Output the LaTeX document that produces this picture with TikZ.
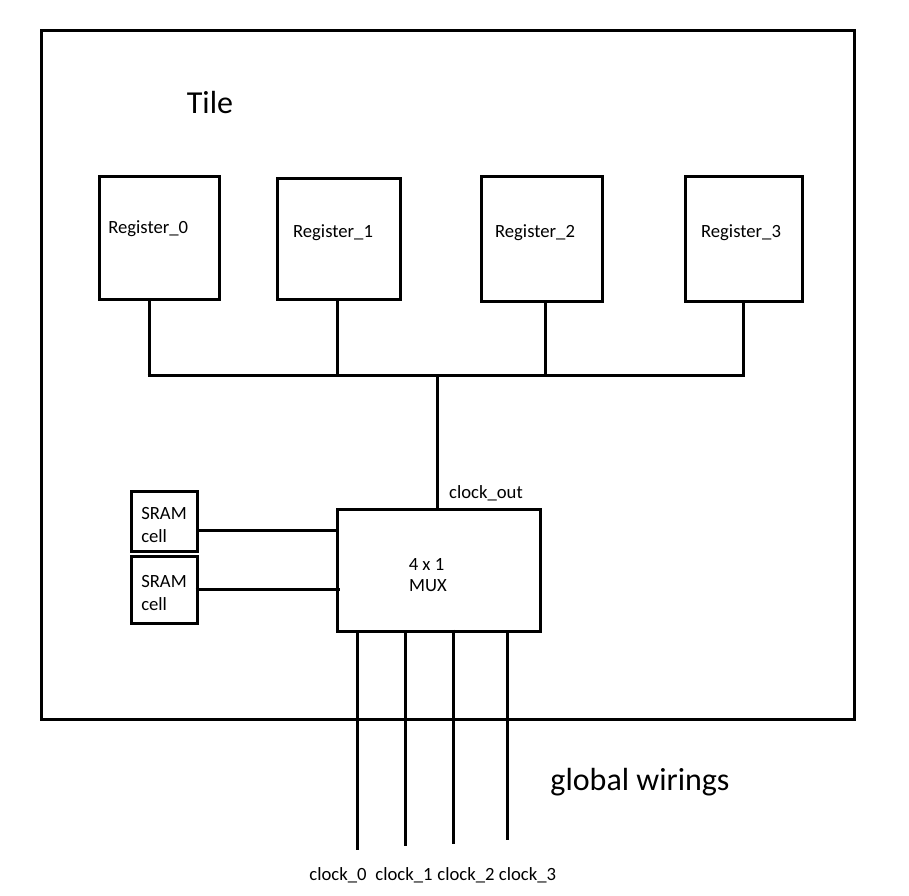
\documentclass[tikz,border=0pt]{standalone}
\usepackage{fontspec}
\setmainfont{Carlito}
\begin{document}
\begin{tikzpicture}[x=0.75pt,y=-0.75pt,
  wire/.style={line width=2.25pt},
  blk/.style={draw,line width=2.25pt,inner sep=0pt},
  txt/.style={inner sep=0pt,font=\fontsize{14}{17}\selectfont,yshift=-1.5pt},
  big/.style={inner sep=0pt,font=\fontsize{24}{29}\selectfont,yshift=-1.5pt}]
\useasboundingbox (0,0) rectangle (909,895);
% tile
\node[blk,minimum width=609.75pt,minimum height=516pt] (tile) at (447.5,375) {};
\node[big] (tl) at (210,101) {Tile};
\node[big] (gw) at (640,780) {global wirings};
% registers
\node[blk,minimum width=90pt,minimum height=92.25pt] (r0) at (159,237.5) {};
\node[blk,minimum width=92.25pt,minimum height=90.75pt] (r1) at (338.5,238.5) {};
\node[blk,minimum width=90.75pt,minimum height=93.75pt] (r2) at (541.5,238.5) {};
\node[blk,minimum width=87.75pt,minimum height=93.75pt] (r3) at (743.5,238.5) {};
\node[txt,anchor=west] (t0) at (108,227) {Register\_0};
\node[txt] (t1) at (333,231) {Register\_1};
\node[txt] (t2) at (535,231) {Register\_2};
\node[txt] (t3) at (741,231) {Register\_3};
% mux and sram
\node[blk,minimum width=152.25pt,minimum height=91.5pt] (mux) at (438.5,570) {};
\node[txt] (m1) at (426.5,562) {4 x 1};
\node[txt] (m2) at (428,584) {MUX};
\node[txt] (co) at (486,491) {clock\_out};
\node[blk,minimum width=49.5pt,minimum height=45pt] (s1) at (164,521) {};
\node[blk,minimum width=49.5pt,minimum height=50.25pt] (s2) at (164,589.5) {};
\node[txt,anchor=west] (s1a) at (141,512) {SRAM};
\node[txt,anchor=west] (s1b) at (141,534) {cell};
\node[txt,anchor=west] (s2a) at (141,579) {SRAM};
\node[txt,anchor=west] (s2b) at (141,602) {cell};
% bus
\coordinate (b0) at (149,375);
\coordinate (b1) at (337,375);
\coordinate (b2) at (545,375);
\coordinate (b3) at (743,375);
\coordinate (bm) at (437,375);
\draw[wire] (r0.south -| b0) -- (b0);
\draw[wire] (r1.south -| b1) -- (b1);
\draw[wire] (r2.south -| b2) -- (b2);
\draw[wire] (r3.south -| b3) -- (b3);
\draw[wire] ([xshift=-1.125pt]b0) -- ([xshift=1.125pt]b3);
\draw[wire] (bm) -- (mux.north -| bm);
% sram links
\coordinate (l1) at (0,530);
\coordinate (l2) at (0,589);
\draw[wire] (s1.east |- l1) -- (mux.west |- l1);
\draw[wire] ([xshift=-2.25pt]s2.east |- l2) -- ([xshift=3pt]mux.west |- l2);
% clocks
\coordinate (c0) at (357,850);
\coordinate (c1) at (405,846);
\coordinate (c2) at (453,844);
\coordinate (c3) at (507,840);
\draw[wire] (mux.south -| c0) -- (c0);
\draw[wire] (mux.south -| c1) -- (c1);
\draw[wire] ([yshift=2.25pt]mux.south -| c2) -- (c2);
\draw[wire] (mux.south -| c3) -- (c3);
\node[txt] (k0) at (338,873) {clock\_0};
\node[txt] (k1) at (404,873) {clock\_1};
\node[txt] (k2) at (466,873) {clock\_2};
\node[txt] (k3) at (527.5,873) {clock\_3};
\end{tikzpicture}
\end{document}
